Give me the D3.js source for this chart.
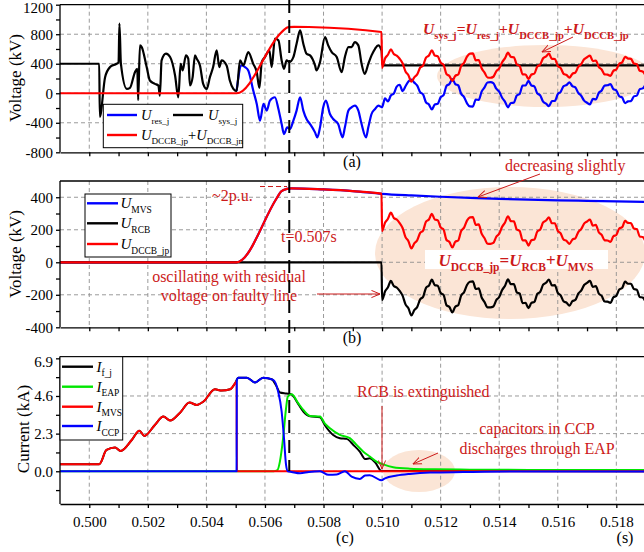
<!DOCTYPE html>
<html lang="en">
<head>
<meta charset="UTF-8">
<title>DCCB fault clearing waveforms</title>
<script src="https://d3js.org/d3.v7.min.js"></script>
<style>
  body { margin: 0; background: #fff; }
  svg { display: block; font-family: "Liberation Serif", "Times New Roman", serif; }
  .grid line { stroke: #8f8f8f; stroke-dasharray: 4,3; stroke-width: 0.9; }
  .axis path, .axis line { stroke: #000; stroke-width: 1.3; }
  .axis text { font-size: 15px; fill: #000; font-family: "Liberation Serif", serif; }
  .note { fill: #cc1a1a; font-size: 16px; }
</style>
</head>
<body>
<svg id="chart" width="644" height="552"></svg>
<script>
// ---------- data (time in s, voltage in kV, current in kA) ----------
// panel (a)
const sysA = [[0.4990,400],[0.50034,400],[0.50036,-318],[0.50054,218],[0.50071,355],[0.50093,400],[0.50100,420],
  [0.50103,945],[0.50108,400],[0.50128,59],[0.50139,73],[0.50156,286],[0.50164,332],[0.50167,-91],[0.50173,650],
  [0.50179,627],[0.50196,355],[0.50207,173],[0.50224,127],[0.50236,105],[0.50241,-32],[0.50247,445],[0.50262,536],
  [0.50276,491],[0.50293,241],[0.50304,-55],[0.50312,400],[0.50319,309],[0.50330,514],[0.50338,468],[0.50344,105],
  [0.50353,218],[0.50361,514],[0.50367,468],[0.50378,377],[0.50389,127],[0.50401,59],[0.50412,218],[0.50423,355],
  [0.50435,582],[0.50444,355],[0.50452,445],[0.50469,377],[0.50480,173],[0.50492,59],[0.50503,30],[0.50515,445],
  [0.50526,377],[0.50543,558],[0.50560,399],[0.50572,286],[0.50581,73],[0.50589,422],[0.50600,490],[0.50615,581],
  [0.50623,354],[0.50634,739],[0.50646,717],[0.50657,445],[0.50665,331],[0.50674,445],[0.50683,422],[0.50697,490],
  [0.50708,671],[0.50720,853],[0.50731,671],[0.50742,535],[0.50754,513],[0.50771,377],[0.50776,309],[0.50788,422],
  [0.50805,762],[0.50816,649],[0.50828,558],[0.50845,490],[0.50862,286],[0.50873,490],[0.50885,626],[0.50896,626],
  [0.50907,694],[0.50919,649],[0.50930,399],[0.50941,263],[0.50953,399],[0.50964,513],[0.50976,603],[0.50987,649],
  [0.50998,581],[0.51002,377],[0.5190,377]];
const resAPre = [[0.50503,30],[0.50520,377],[0.50532,354],[0.50543,309],[0.50560,37],[0.50572,-145],[0.50583,-371],
  [0.50595,-145],[0.50606,-235],[0.50617,-99],[0.50634,-54],[0.50646,-213],[0.50657,-417],[0.50665,-553],[0.50676,-462],
  [0.50685,-485],[0.50697,-371],[0.50708,-235],[0.50720,-54],[0.50731,-235],[0.50742,-349],[0.50754,-417],[0.50771,-530],
  [0.50779,-598],[0.50788,-462],[0.50799,-190],[0.50808,-99],[0.50822,-281],[0.50833,-349],[0.50850,-417],[0.50865,-598],
  [0.50873,-462],[0.50885,-235],[0.50896,-190],[0.50907,-167],[0.50919,-235],[0.50930,-417],[0.50945,-598],[0.50953,-462],
  [0.50964,-281],[0.50976,-213],[0.50987,-167]];
const resAOsc = [-190,-70,-110,-30,-5,90,115,30,95,160,
  185,144,104,14,-16,-124,-152,-220,-152,-142,
  -54,-26,100,126,192,124,106,-8,-52,-136,
  -178,-180,-86,-90,22,80,146,150,136,62,
  22,-60,-116,-190,-132,-128,-30,-10,104,106,
  168,106,94,-2,-28,-114,-140,-176,-106,-104,
  -12,20,96,112,148,96,80,4,-34,-100,
  -128,-150,-76,-84,4,38,104,108,124,56,
  38,-40,-58,-134,-110,-106,-42,-32,56,66,120];
const dccbAPre = [[0.4990,0],[0.50503,0],[0.50650,800],[0.50665,860],[0.50680,895],[0.50700,900],[0.50750,898],[0.50998,830]];
const dccbAOsc = [345,470,522,594,532,510,468,406,296,244,
  156,216,256,346,376,484,512,580,512,502,
  414,386,260,234,168,236,254,368,412,496,
  538,540,446,450,338,280,214,210,224,298,
  338,420,476,550,492,488,390,370,256,254,
  192,254,266,362,388,474,500,536,466,464,
  372,340,264,248,212,264,280,356,394,460,
  488,510,436,444,356,322,256,252,236,304,
  322,400,418,494,470,466,402,392,304,294,240];

// panel (b)
const mvsB = [[0.4990,0],[0.50503,0],[0.50640,394],[0.50655,435],[0.50675,452],[0.50690,455],[0.50800,448],
  [0.50900,438],[0.51000,421],[0.51100,411],[0.51200,403],[0.51300,396],[0.51400,390],[0.51500,385],[0.51600,381],
  [0.51700,378],[0.51800,375],[0.51900,372]];
const dccbBPre = [[0.4990,0],[0.50503,0],[0.50640,394],[0.50655,435],[0.50675,452],[0.50690,455],[0.50800,448],
  [0.50900,438],[0.50998,422]];
const dccbBOsc = [192,243,268,305,273,263,241,211,155,130,
  85,116,135,181,195,250,263,298,263,259,
  214,201,137,125,91,126,134,192,213,256,
  276,278,230,233,176,148,114,113,119,157,
  176,218,245,283,253,252,202,193,135,135,
  103,135,140,189,201,245,257,276,240,240,
  193,178,139,132,113,140,147,186,204,238,
  251,263,225,230,185,169,135,134,125,160,
  168,208,216,255,242,241,208,204,159,155,127];
const rcbBPre = [[0.4990,0],[0.50998,0]];
const rcbBOsc = [-232,-180,-154,-115,-146,-155,-176,-205,-259,-283,
  -327,-295,-275,-228,-213,-157,-143,-107,-141,-144,
  -189,-201,-264,-275,-309,-273,-264,-205,-184,-140,
  -120,-117,-164,-161,-217,-245,-278,-278,-272,-233,
  -214,-171,-144,-105,-135,-135,-185,-193,-251,-250,
  -282,-250,-244,-195,-182,-138,-126,-106,-142,-141,
  -188,-203,-241,-248,-267,-239,-232,-193,-174,-140,
  -127,-115,-152,-147,-192,-207,-241,-242,-250,-215,
  -207,-167,-158,-119,-132,-132,-165,-169,-213,-217,-245];

// panel (c)
const ifC = [[0.4990,0.43],[0.50034,0.43],[0.50059,1.30],[0.50088,1.45],[0.50107,1.24],[0.50145,1.91],[0.50171,2.48],
  [0.50188,2.16],[0.50224,2.83],[0.50253,3.34],[0.50276,3.10],[0.50310,3.58],[0.50342,4.20],[0.50367,4.05],[0.50390,4.26],
  [0.50429,5.01],[0.50452,4.93],[0.50481,5.01],[0.50498,5.38],[0.50509,5.72],[0.50538,5.72],[0.50566,5.42],[0.50594,5.72],
  [0.50623,5.62],[0.50640,5.17],[0.50651,4.81],[0.50674,4.75],[0.50690,4.70],[0.50714,4.10],[0.50731,3.65],[0.50754,3.36],
  [0.50788,3.30],[0.50804,2.83],[0.50833,2.22],[0.50856,2.02],[0.50879,1.98],[0.50902,1.61],[0.50924,1.20],[0.50942,0.75],
  [0.50958,0.79],[0.50976,0.55],[0.50998,0.02],[0.5190,0]];
const eapC = [[0.4990,0],[0.50630,0],[0.50643,0.08],[0.50651,0.59],[0.50662,2.02],[0.50672,3.85],[0.50678,4.56],
  [0.50691,4.70],[0.50714,4.15],[0.50731,3.75],[0.50754,3.38],[0.50788,3.34],[0.50804,2.93],[0.50822,2.63],[0.50856,2.22],
  [0.50890,2.02],[0.50913,1.61],[0.50936,1.20],[0.50958,0.90],[0.50981,0.59],[0.51004,0.42],[0.51038,0.25],[0.51095,0.16],
  [0.51180,0.12],[0.51300,0.10],[0.51500,0.08],[0.5190,0.07]];
const mvsC = [[0.4990,0.43],[0.50034,0.43],[0.50059,1.30],[0.50088,1.45],[0.50107,1.24],[0.50145,1.91],[0.50171,2.48],
  [0.50188,2.16],[0.50224,2.83],[0.50253,3.34],[0.50276,3.10],[0.50310,3.58],[0.50342,4.20],[0.50367,4.05],[0.50390,4.26],
  [0.50429,5.01],[0.50452,4.93],[0.50481,5.01],[0.50498,5.38],[0.50503,5.50],[0.50504,0],[0.5190,0]];
const ccpC = [[0.4990,0],[0.50503,0],[0.50504,5.58],[0.50509,5.72],[0.50538,5.72],[0.50566,5.42],[0.50594,5.72],
  [0.50628,5.58],[0.50645,4.87],[0.50657,3.65],[0.50665,2.02],[0.50672,0.39],[0.50678,0],[0.50691,-0.04],[0.50720,-0.12],
  [0.50750,-0.04],[0.50788,0],[0.50817,-0.22],[0.50845,-0.20],[0.50873,0],[0.50896,-0.33],[0.50924,-0.47],[0.50942,-0.26],
  [0.50958,-0.24],[0.50998,-0.55],[0.51010,-0.43],[0.51050,-0.26],[0.51095,-0.16],[0.51164,-0.08],[0.51278,-0.05],
  [0.51450,-0.02],[0.5190,-0.02]];

// tick labels
const xLabels = [0.500, 0.502, 0.504, 0.506, 0.508, 0.510, 0.512, 0.514, 0.516, 0.518];
const yTicksA = [-800, -400, 0, 400, 800, 1200];
const yTicksB = [-400, -200, 0, 200, 400];
const yTicksC = [0.0, 2.3, 4.6, 6.9];

const oscStart = 0.5100, oscStep = 0.0001;
const timed = vals => vals.map((v, i) => [oscStart + i * oscStep, v]);

// ---------- scales ----------
const x = d3.scaleLinear().domain([0.499, 0.519]).range([60, 645.6]);
const yA = d3.scaleLinear().domain([-800, 1200]).range([152.3, 4.7]);
const yB = d3.scaleLinear().domain([-400, 500]).range([327.3, 181]);
const yC = d3.scaleLinear().domain([-2, 7]).range([504, 356.7]);

const RED = "#ff0000", BLUE = "#0000ff", GREEN = "#00e600", NOTE = "#cc1a1a";
const svg = d3.select("#chart");
const defs = svg.append("defs");

defs.append("marker").attr("id", "arrow").attr("viewBox", "0 0 10 10")
    .attr("refX", 9.5).attr("refY", 5).attr("markerWidth", 9).attr("markerHeight", 9)
    .attr("orient", "auto")
    .append("path").attr("d", "M0,1 L9.5,5 L0,9").attr("fill", "none")
    .attr("stroke", NOTE).attr("stroke-width", 1.1);

// text with italic letters and lowered subscripts
function rich(g, px, py, parts, size, subRatio = 0.68) {
    const t = g.append("text").attr("x", px).attr("y", py).attr("font-size", size);
    let shifted = 0;
    parts.forEach(p => {
        const s = t.append("tspan").text(p[0]);
        const sub = p[1] && p[1].includes("s");
        const dy = sub ? size * 0.3 : 0;
        s.attr("dy", dy - shifted);
        shifted = dy;
        if (sub) s.attr("font-size", size * subRatio);
        if (p[1] && p[1].includes("i")) s.attr("font-style", "italic");
    });
    return t;
}

function panel(id, y, top, bottom, yMajor, yMinor, fmt, showX) {
    const g = svg.append("g").attr("class", "panel-" + id);
    defs.append("clipPath").attr("id", "clip-" + id)
        .append("rect").attr("x", 60).attr("y", top).attr("width", 586).attr("height", bottom - top);
    const back = g.append("g");
    const grid = g.append("g").attr("class", "grid");
    grid.selectAll(".v").data(xLabels).join("line")
        .attr("x1", d => x(d)).attr("x2", d => x(d)).attr("y1", top).attr("y2", bottom);
    grid.selectAll(".h").data(yMajor.filter(v => y(v) > top + 2 && y(v) < bottom - 2)).join("line")
        .attr("x1", 60).attr("x2", 646).attr("y1", d => y(d)).attr("y2", d => y(d));
    const plot = g.append("g").attr("clip-path", `url(#clip-${id})`);

    // axes
    const xMinor = d3.range(500, 519).map(d => d / 1000);
    g.append("g").attr("class", "axis").attr("transform", `translate(0,${bottom})`)
        .call(d3.axisBottom(x).tickValues(xMinor).tickSize(4).tickSizeOuter(0)
            .tickFormat(d => showX && xLabels.some(v => Math.abs(v - d) < 1e-7) ? d.toFixed(3) : ""))
        .call(a => a.selectAll("text").attr("dy", "1.05em"));
    g.append("g").attr("class", "axis").attr("transform", "translate(60,0)")
        .call(d3.axisLeft(y).tickValues(yMajor.concat(yMinor)).tickSize(4).tickSizeOuter(0)
            .tickFormat(d => yMajor.includes(d) ? fmt(d) : ""))
        .call(a => a.select(".domain").attr("d", `M0,${top}V${bottom}`))
        .call(a => a.selectAll("text").filter(d => y(d) - top < 3).attr("dy", "0.55em"));
    g.append("line").attr("x1", 60).attr("x2", 646).attr("y1", top).attr("y2", top)
        .attr("stroke", "#000").attr("stroke-width", 1.3);
    return { g, back, plot };
}

function draw(plot, y, data, color, w) {
    plot.append("path").datum(data)
        .attr("d", d3.line().curve(d3.curveMonotoneX).x(d => x(d[0])).y(d => y(d[1])))
        .attr("fill", "none").attr("stroke", color).attr("stroke-width", w)
        .attr("stroke-linejoin", "round");
}

function arrow(g, x1, y1, x2, y2) {
    g.append("line").attr("x1", x1).attr("y1", y1).attr("x2", x2).attr("y2", y2)
        .attr("stroke", NOTE).attr("stroke-width", 1).attr("marker-end", "url(#arrow)");
}

function legendBox(g, bx, by, bw, bh, rows, size) {
    g.append("rect").attr("x", bx).attr("y", by).attr("width", bw).attr("height", bh)
        .attr("fill", "#fff").attr("stroke", "#000").attr("stroke-width", 1);
    rows.forEach(r => {
        g.append("line").attr("x1", r.x1).attr("x2", r.x2).attr("y1", r.y).attr("y2", r.y)
            .attr("stroke", r.color).attr("stroke-width", 2.4);
        rich(g, r.tx, r.y + 5, r.parts, size, 0.63);
    });
}

// ---------- panel (a) ----------
const pa = panel("a", yA, 4.7, 152.3, yTicksA, [-600, -200, 200, 600, 1000], d => String(d), false);
pa.back.append("ellipse").attr("cx", 545).attr("cy", 76).attr("rx", 108).attr("ry", 31).attr("fill", "#fbe5d6");
draw(pa.plot, yA, resAPre.concat(timed(resAOsc)), BLUE, 2.2);
draw(pa.plot, yA, sysA, "#000", 2.2);
draw(pa.plot, yA, dccbAPre.concat(timed(dccbAOsc)), RED, 2.2);
legendBox(pa.g, 103.3, 104.3, 139.4, 43.4, [
    { x1: 107, x2: 137, y: 115, color: BLUE, tx: 141, parts: [["U", "i"], ["res_j", "s"]] },
    { x1: 173, x2: 203, y: 115, color: "#000", tx: 208, parts: [["U", "i"], ["sys_j", "s"]] },
    { x1: 107, x2: 137, y: 135, color: RED, tx: 141,
      parts: [["U", "i"], ["DCCB_jp", "s"], ["+"], ["U", "i"], ["DCCB_jn", "s"]] }
], 14.5);
rich(pa.g, 423, 34, [["U", "i"], ["sys_j", "s"], ["="], ["U", "i"], ["res_j", "s"], ["+"], ["U", "i"], ["DCCB_jp", "s"],
    ["+"], ["U", "i"], ["DCCB_jp", "s"]], 15.6).attr("fill", NOTE).attr("font-weight", "bold");
arrow(pa.g, 573, 37, 542, 52);

// ---------- panel (b) ----------
const pb = panel("b", yB, 181, 327.3, yTicksB, [-300, -100, 100, 300], d => String(d), false);
pb.back.append("ellipse").attr("cx", 510).attr("cy", 253).attr("rx", 135).attr("ry", 66).attr("fill", "#fbe5d6");
draw(pb.plot, yB, mvsB, BLUE, 2.2);
draw(pb.plot, yB, rcbBPre.concat(timed(rcbBOsc)), "#000", 2.2);
draw(pb.plot, yB, dccbBPre.concat(timed(dccbBOsc)), RED, 2.2);
legendBox(pb.g, 85, 194, 86, 63, [
    { x1: 87, x2: 118, y: 203.3, color: BLUE, tx: 120.5, parts: [["U", "i"], ["MVS", "s"]] },
    { x1: 87, x2: 118, y: 223.3, color: "#000", tx: 120.5, parts: [["U", "i"], ["RCB", "s"]] },
    { x1: 87, x2: 118, y: 244, color: RED, tx: 120.5, parts: [["U", "i"], ["DCCB_jp", "s"]] }
], 15);
pb.g.append("line").attr("x1", 260).attr("x2", 287).attr("y1", yB(466)).attr("y2", yB(466))
    .attr("stroke", NOTE).attr("stroke-width", 1).attr("stroke-dasharray", "5,3");
pb.g.append("text").attr("class", "note").attr("x", 212).attr("y", 201).text("~2p.u.");
pb.g.append("text").attr("class", "note").attr("x", 281).attr("y", 242).text("t=0.507s");
pb.g.append("text").attr("class", "note").attr("x", 229).attr("y", 282).attr("text-anchor", "middle")
    .text("oscillating with residual");
pb.g.append("text").attr("class", "note").attr("x", 229).attr("y", 301).attr("text-anchor", "middle")
    .text("voltage on faulty line");
arrow(pb.g, 317, 294, 380, 294);
pb.g.append("rect").attr("x", 425).attr("y", 250).attr("width", 183).attr("height", 19).attr("fill", "#fff");
rich(pb.g, 516, 266, [["U", "i"], ["DCCB_jp", "s"], ["="], ["U", "i"], ["RCB", "s"], ["+"], ["U", "i"], ["MVS", "s"]], 17)
    .attr("fill", NOTE).attr("font-weight", "bold").attr("text-anchor", "middle");
pb.g.append("text").attr("class", "note").attr("x", 505).attr("y", 171).text("decreasing slightly");
arrow(pb.g, 540, 174, 478, 197);

// ---------- panel (c) ----------
const pc = panel("c", yC, 356.7, 504, yTicksC, [-1.15, 1.15, 3.45, 5.75], d => d.toFixed(1), true);
pc.back.append("ellipse").attr("cx", 419).attr("cy", 471).attr("rx", 36).attr("ry", 21).attr("fill", "#fbe5d6");
draw(pc.plot, yC, ifC, "#000", 2);
draw(pc.plot, yC, eapC, GREEN, 2);
draw(pc.plot, yC, mvsC, RED, 2);
draw(pc.plot, yC, ccpC, BLUE, 2);
legendBox(pc.g, 60, 356.7, 62.7, 83.3, [
    { x1: 62, x2: 93, y: 366.7, color: "#000", tx: 96.5, parts: [["I", "i"], ["f_j", "s"]] },
    { x1: 62, x2: 93, y: 386.7, color: GREEN, tx: 96.5, parts: [["I", "i"], ["EAP", "s"]] },
    { x1: 62, x2: 93, y: 406.7, color: RED, tx: 96.5, parts: [["I", "i"], ["MVS", "s"]] },
    { x1: 62, x2: 93, y: 426, color: BLUE, tx: 96.5, parts: [["I", "i"], ["CCP", "s"]] }
], 15);
pc.g.append("text").attr("class", "note").attr("x", 357).attr("y", 397).text("RCB is extinguished");
arrow(pc.g, 382, 406, 382, 469);
pc.g.append("text").attr("class", "note").attr("x", 537).attr("y", 434).attr("text-anchor", "middle").text("capacitors in CCP");
pc.g.append("text").attr("class", "note").attr("x", 537).attr("y", 454).attr("text-anchor", "middle").text("discharges through EAP");
arrow(pc.g, 438, 453, 413, 464);

// ---------- shared marks and titles ----------
svg.append("line").attr("x1", x(0.50683)).attr("x2", x(0.50683)).attr("y1", 0).attr("y2", 471)
    .attr("stroke", "#000").attr("stroke-width", 2).attr("stroke-dasharray", "13,7");

const titles = [["Voltage (kV)", 21, 78], ["Voltage (kV)", 21, 254], ["Current (kA)", 29, 429]];
titles.forEach(t => svg.append("text").attr("transform", `translate(${t[1]},${t[2]}) rotate(-90)`)
    .attr("text-anchor", "middle").attr("font-size", 17).text(t[0]));

[["(a)", 352, 167], ["(b)", 352, 343], ["(c)", 345, 543]].forEach(t =>
    svg.append("text").attr("x", t[1]).attr("y", t[2]).attr("text-anchor", "middle").attr("font-size", 16).text(t[0]));
svg.append("text").attr("x", 625).attr("y", 543).attr("text-anchor", "middle").attr("font-size", 16).text("(s)");
</script>
</body>
</html>
